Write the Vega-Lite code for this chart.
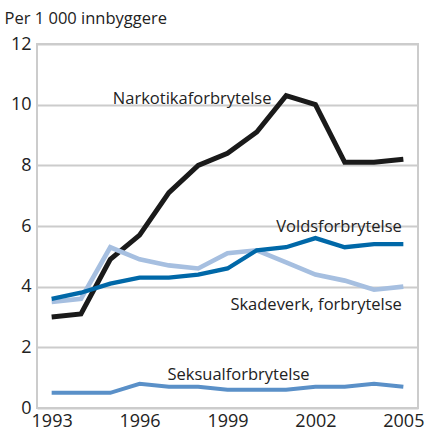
{
  "$schema": "https://vega.github.io/schema/vega-lite/v6.json",
  "width": 381,
  "height": 364,
  "autosize": {"type": "none"},
  "padding": {"left": 37, "top": 44, "right": 7, "bottom": 24},
  "background": "white",
  "config": {
    "font": "Open Sans",
    "view": {"stroke": "#cccccc", "strokeWidth": 2},
    "axis": {"labelFont": "Open Sans", "titleFont": "Open Sans", "labelColor": "#222222", "titleColor": "#222222"}
  },
  "datasets": {
    "series": [
      {"year": 1993, "value": 3.0, "series": "Narkotika"},
      {"year": 1994, "value": 3.1, "series": "Narkotika"},
      {"year": 1995, "value": 4.9, "series": "Narkotika"},
      {"year": 1996, "value": 5.7, "series": "Narkotika"},
      {"year": 1997, "value": 7.1, "series": "Narkotika"},
      {"year": 1998, "value": 8.0, "series": "Narkotika"},
      {"year": 1999, "value": 8.4, "series": "Narkotika"},
      {"year": 2000, "value": 9.1, "series": "Narkotika"},
      {"year": 2001, "value": 10.3, "series": "Narkotika"},
      {"year": 2002, "value": 10.0, "series": "Narkotika"},
      {"year": 2003, "value": 8.1, "series": "Narkotika"},
      {"year": 2004, "value": 8.1, "series": "Narkotika"},
      {"year": 2005, "value": 8.2, "series": "Narkotika"},
      {"year": 1993, "value": 3.5, "series": "Skadeverk"},
      {"year": 1994, "value": 3.6, "series": "Skadeverk"},
      {"year": 1995, "value": 5.3, "series": "Skadeverk"},
      {"year": 1996, "value": 4.9, "series": "Skadeverk"},
      {"year": 1997, "value": 4.7, "series": "Skadeverk"},
      {"year": 1998, "value": 4.6, "series": "Skadeverk"},
      {"year": 1999, "value": 5.1, "series": "Skadeverk"},
      {"year": 2000, "value": 5.2, "series": "Skadeverk"},
      {"year": 2001, "value": 4.8, "series": "Skadeverk"},
      {"year": 2002, "value": 4.4, "series": "Skadeverk"},
      {"year": 2003, "value": 4.2, "series": "Skadeverk"},
      {"year": 2004, "value": 3.9, "series": "Skadeverk"},
      {"year": 2005, "value": 4.0, "series": "Skadeverk"},
      {"year": 1993, "value": 3.6, "series": "Volds"},
      {"year": 1994, "value": 3.8, "series": "Volds"},
      {"year": 1995, "value": 4.1, "series": "Volds"},
      {"year": 1996, "value": 4.3, "series": "Volds"},
      {"year": 1997, "value": 4.3, "series": "Volds"},
      {"year": 1998, "value": 4.4, "series": "Volds"},
      {"year": 1999, "value": 4.6, "series": "Volds"},
      {"year": 2000, "value": 5.2, "series": "Volds"},
      {"year": 2001, "value": 5.3, "series": "Volds"},
      {"year": 2002, "value": 5.6, "series": "Volds"},
      {"year": 2003, "value": 5.3, "series": "Volds"},
      {"year": 2004, "value": 5.4, "series": "Volds"},
      {"year": 2005, "value": 5.4, "series": "Volds"},
      {"year": 1993, "value": 0.5, "series": "Seksual"},
      {"year": 1994, "value": 0.5, "series": "Seksual"},
      {"year": 1995, "value": 0.5, "series": "Seksual"},
      {"year": 1996, "value": 0.8, "series": "Seksual"},
      {"year": 1997, "value": 0.7, "series": "Seksual"},
      {"year": 1998, "value": 0.7, "series": "Seksual"},
      {"year": 1999, "value": 0.6, "series": "Seksual"},
      {"year": 2000, "value": 0.6, "series": "Seksual"},
      {"year": 2001, "value": 0.6, "series": "Seksual"},
      {"year": 2002, "value": 0.7, "series": "Seksual"},
      {"year": 2003, "value": 0.7, "series": "Seksual"},
      {"year": 2004, "value": 0.8, "series": "Seksual"},
      {"year": 2005, "value": 0.7, "series": "Seksual"}
    ],
    "labels": [
      {"year": 2000.5, "value": 10.2, "text": "Narkotikaforbrytelse"},
      {"year": 2004.95, "value": 5.98, "text": "Voldsforbrytelse"},
      {"year": 2004.95, "value": 3.38, "text": "Skadeverk, forbrytelse"},
      {"year": 2001.8, "value": 1.1, "text": "Seksualforbrytelse"}
    ],
    "majorYears": [
      {"year": 1993}, {"year": 1996}, {"year": 1999}, {"year": 2002}, {"year": 2005}
    ],
    "allYears": [
      {"year": 1993}, {"year": 1994}, {"year": 1995}, {"year": 1996}, {"year": 1997},
      {"year": 1998}, {"year": 1999}, {"year": 2000}, {"year": 2001}, {"year": 2002},
      {"year": 2003}, {"year": 2004}, {"year": 2005}
    ]
  },
  "encoding": {
    "x": {
      "field": "year", "type": "quantitative",
      "scale": {"domain": [1992.5, 2005.5], "nice": false, "zero": false},
      "axis": {
        "values": [1993, 1996, 1999, 2002, 2005],
        "format": "d",
        "labelOverlap": false,
        "labelFlush": false,
        "labelBound": false,
        "title": null,
        "domain": false,
        "ticks": false,
        "grid": false,
        "labelFontSize": 18,
        "labelPadding": 4
      }
    },
    "y": {
      "field": "value", "type": "quantitative",
      "scale": {"domain": [0, 12], "nice": false},
      "axis": {
        "values": [0, 2, 4, 6, 8, 10, 12],
        "title": "Per 1 000 innbyggere",
        "titleAngle": 0,
        "titleAlign": "left",
        "titleBaseline": "alphabetic",
        "titleX": -33,
        "titleY": -21,
        "titleFontSize": 16.5,
        "titleFontWeight": "normal",
        "domain": false,
        "ticks": false,
        "labelFontSize": 18,
        "labelPadding": 6,
        "labelOverlap": false,
        "labelFlush": false,
        "grid": true,
        "gridColor": "#cccccc",
        "gridWidth": 2
      }
    }
  },
  "layer": [
    {
      "data": {"name": "majorYears"},
      "mark": {"type": "rule", "color": "#cccccc", "strokeWidth": 2},
      "encoding": {
        "y": {"datum": 0, "type": "quantitative"},
        "y2": {"datum": 12}
      }
    },
    {
      "data": {"name": "allYears"},
      "mark": {"type": "tick", "orient": "vertical", "color": "#cccccc", "thickness": 2, "size": 16, "clip": true, "opacity": 1},
      "encoding": {
        "y": {"datum": 0, "type": "quantitative"}
      }
    },
    {
      "data": {"name": "series"},
      "mark": {"type": "line", "strokeJoin": "miter"},
      "encoding": {
        "detail": {"field": "series"},
        "color": {
          "field": "series", "type": "nominal", "legend": null,
          "scale": {
            "domain": ["Narkotika", "Skadeverk", "Volds", "Seksual"],
            "range": ["#1a1a1a", "#a6bfe0", "#0068a8", "#5a90c8"]
          }
        },
        "strokeWidth": {
          "field": "series", "type": "nominal", "legend": null,
          "scale": {"domain": ["Narkotika", "Skadeverk", "Volds", "Seksual"], "range": [5, 4, 4, 4]}
        }
      }
    },
    {
      "data": {"name": "labels"},
      "mark": {"type": "text", "fontSize": 16.5, "color": "#222222", "align": "right", "baseline": "middle", "font": "Open Sans"},
      "encoding": {
        "text": {"field": "text"}
      }
    }
  ]
}
